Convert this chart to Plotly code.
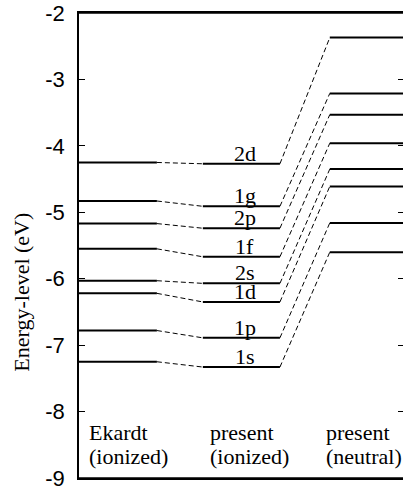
import plotly.graph_objects as go

# ---- data ----
states = ["1s", "1p", "1d", "2s", "1f", "2p", "1g", "2d"]
ekardt_ionized = [-7.25, -6.78, -6.22, -6.03, -5.55, -5.17, -4.83, -4.25]
present_ionized = [-7.33, -6.89, -6.35, -6.07, -5.67, -5.24, -4.91, -4.27]
present_neutral = [-5.60, -5.16, -4.61, -4.35, -3.96, -3.53, -3.21, -2.37]
column_names = ["Ekardt", "present", "present"]
column_kinds = ["(ionized)", "(ionized)", "(neutral)"]
y_ticks = [-9, -8, -7, -6, -5, -4, -3, -2]

# ---- column geometry (x in axis units) ----
col_a = (0.0, 1.0)
col_b = (1.59, 2.58)
col_c = (3.22, 4.16)
X_MAX = 4.16

SERIF = "Liberation Serif, Times New Roman, serif"
SANS = "Liberation Sans, Arial, sans-serif"


def segs(x0, x1, y0s, y1s):
    xs, ys = [], []
    for a, b in zip(y0s, y1s):
        xs += [x0, x1, None]
        ys += [a, b, None]
    return xs, ys


fig = go.Figure()

solid = dict(color="black", width=2)
dashed = dict(color="black", width=1, dash="5px,3px")

for (x0, x1), vals in [(col_a, ekardt_ionized), (col_b, present_ionized), (col_c, present_neutral)]:
    xs, ys = segs(x0, x1, vals, vals)
    fig.add_trace(go.Scatter(x=xs, y=ys, mode="lines", line=solid, hoverinfo="skip", showlegend=False))

xs, ys = segs(col_a[1], col_b[0], ekardt_ionized, present_ionized)
fig.add_trace(go.Scatter(x=xs, y=ys, mode="lines", line=dashed, hoverinfo="skip", showlegend=False))
xs, ys = segs(col_b[1], col_c[0], present_ionized, present_neutral)
fig.add_trace(go.Scatter(x=xs, y=ys, mode="lines", line=dashed, hoverinfo="skip", showlegend=False))

# invisible trace for the right-hand tick axis
fig.add_trace(go.Scatter(x=[0], y=[-9], yaxis="y2", mode="markers", marker=dict(opacity=0),
                         hoverinfo="skip", showlegend=False))

# state labels above the middle column
for s, v in zip(states, present_ionized):
    fig.add_annotation(x=2.13, y=v, text=s, showarrow=False, xanchor="center", yanchor="bottom",
                       yshift=-4, font=dict(family=SERIF, size=22, color="black"))

# column labels (two lines each)
for name, kind, x0 in zip(column_names, column_kinds, [col_a[0] + 0.1, col_b[0] + 0.07, col_c[0] - 0.07]):
    fig.add_annotation(x=x0, y=-8.31, text=name, showarrow=False, xanchor="left", yanchor="middle",
                       font=dict(family=SERIF, size=22, color="black"))
    fig.add_annotation(x=x0, y=-8.68, text=kind, showarrow=False, xanchor="left", yanchor="middle",
                       font=dict(family=SERIF, size=22, color="black"))

# y-axis title
fig.add_annotation(xref="paper", yref="paper", x=-0.18, y=0.40, text="Energy-level (eV)",
                   textangle=-90, showarrow=False, xanchor="center", yanchor="middle",
                   font=dict(family=SERIF, size=22, color="black"))

# top and bottom frame lines
for yp in (0, 1):
    fig.add_shape(type="line", xref="paper", yref="paper", x0=0, x1=1, y0=yp, y1=yp,
                  line=dict(color="black", width=1.5))

fig.update_layout(
    width=403, height=490,
    margin=dict(l=79, r=0, t=13, b=12, autoexpand=False),
    paper_bgcolor="white", plot_bgcolor="white",
    xaxis=dict(range=[0, X_MAX], showgrid=False, zeroline=False, showticklabels=False, ticks="",
               showline=True, linecolor="black", linewidth=2, mirror=True, automargin=False),
    yaxis=dict(range=[-9, -2], tickvals=y_ticks, ticktext=[str(t) for t in y_ticks],
               showgrid=False, zeroline=False, ticks="inside", ticklen=6, tickcolor="black",
               showline=True, linecolor="black", linewidth=1.5, ticklabelstandoff=8,
               ticklabeloverflow="allow",
               automargin=False, tickfont=dict(family=SANS, size=22, color="black")),
    yaxis2=dict(range=[-9, -2], tickvals=y_ticks, overlaying="y", side="right", showgrid=False,
                zeroline=False, showticklabels=False, ticks="inside", ticklen=5, tickcolor="black",
                showline=False, automargin=False),
)

fig.write_html("out.html", config={"displayModeBar": False},
               post_script="document.body.style.margin='0';document.body.style.overflow='hidden';")
